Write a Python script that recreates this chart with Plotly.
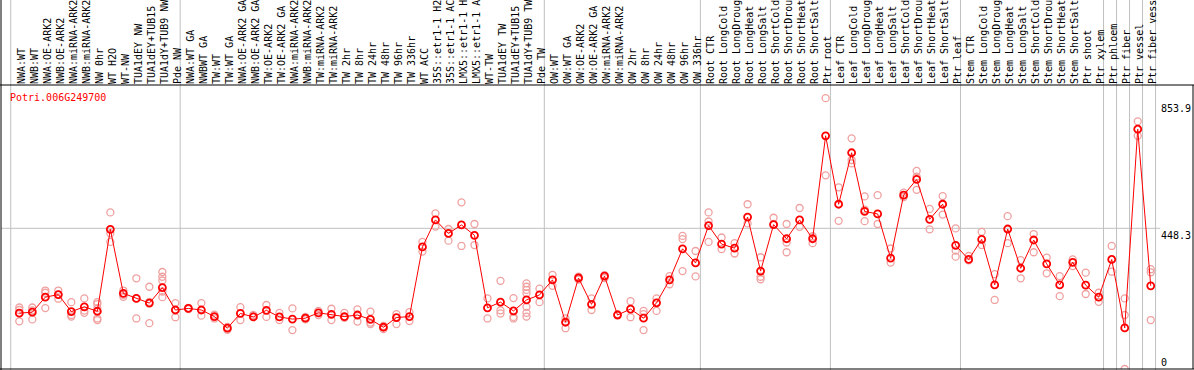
import plotly.graph_objects as go

gene_id = "Potri.006G249700"

categories = [
    "NWA:WT", "NWB:WT", "NWA:OE-ARK2", "NWB:OE-ARK2", "NWA:miRNA-ARK2", "NWB:miRNA-ARK2",
    "NW 0hr", "WT H2O", "WT-NW", "TUA1dEY NW", "TUA1dEY+TUB15 NW", "TUA1dY+TUB9 NW", "Pde NW",
    "NWA:WT GA", "NWBWT GA", "TW:WT", "TW:WT GA", "NWA:OE-ARK2 GA", "NWB:OE-ARK2 GA",
    "TW:OE-ARK2", "TW:OE-ARK2 GA", "NWA:miRNA-ARK2 GA", "NWB:miRNA-ARK2 GA", "TW:miRNA-ARK2",
    "TW:miRNA-ARK2 GA", "TW 2hr", "TW 8hr", "TW 24hr", "TW 48hr", "TW 96hr", "TW 336hr",
    "WT ACC", "35S::etr1-1 H2O", "35S::etr1-1 ACC", "LMX5::etr1-1 H2O", "LMX5::etr1-1 ACC",
    "WT-TW", "TUA1dEY TW", "TUA1dEY+TUB15 TW", "TUA1dY+TUB9 TW", "Pde TW",
    "OW:WT", "OW:WT GA", "OW:OE-ARK2", "OW:OE-ARK2 GA", "OW:miRNA-ARK2", "OW:miRNA-ARK2 GA",
    "OW 2hr", "OW 8hr", "OW 24hr", "OW 48hr", "OW 96hr", "OW 336hr",
    "Root CTR", "Root LongCold", "Root LongDrought", "Root LongHeat", "Root LongSalt",
    "Root ShortCold", "Root ShortDrought", "Root ShortHeat", "Root ShortSalt", "Ptr root",
    "Leaf CTR", "Leaf LongCold", "Leaf LongDrought", "Leaf LongHeat", "Leaf LongSalt",
    "Leaf ShortCold", "Leaf ShortDrought", "Leaf ShortHeat", "Leaf ShortSalt", "Ptr leaf",
    "Stem CTR", "Stem LongCold", "Stem LongDrought", "Stem LongHeat", "Stem LongSalt",
    "Stem ShortCold", "Stem ShortDrought", "Stem ShortHeat", "Stem ShortSalt", "Ptr shoot",
    "Ptr xylem", "Ptr phloem", "Ptr fiber", "Ptr vessel", "Ptr fiber vessel",
]

means = [
    178, 181, 229, 237, 183, 198, 184, 445, 241, 225, 210, 259, 188,
    193, 188, 167, 130, 177, 166, 187, 166, 159, 162, 179, 174, 167, 172, 158, 133, 164, 167,
    389, 475, 432, 459, 426, 195, 213, 185, 220, 236,
    284, 149, 290, 206, 296, 172, 191, 162, 211, 284, 383, 338,
    457, 398, 385, 484, 312, 460, 415, 475, 415, 743,
    525, 689, 502, 494, 353, 554, 604, 477, 525, 394,
    349, 413, 268, 446, 321, 411, 335, 268, 340, 267, 229,
    349, 131, 764, 265,
]

replicates = [
    [196, 188, 152], [196, 187, 158], [250, 243, 194], [250, 224, 237], [213, 172, 167],
    [225, 186, 179], [213, 207, 194, 161, 156], [499, 432, 405], [250, 236, 230],
    [289, 225, 161], [262, 214, 146], [309, 294, 282, 247, 229], [210, 165, 188],
    [195, 191], [210, 170], [173, 161], [134, 125], [197, 156], [172, 168], [204, 166],
    [179, 156], [193, 124], [166, 158], [185, 172], [192, 156], [179, 163], [190, 151],
    [183, 148, 143], [127, 137], [175, 143], [181, 153],
    [405, 374], [496, 454], [446, 409], [531, 392], [462, 395],
    [225, 161], [281, 187, 177], [226, 166, 161], [273, 262, 252, 241, 198, 179, 167], [256, 213],
    [300, 265], [161, 130], [294, 285], [225, 188], [299, 290], [175], [216, 165],
    [185, 175, 124], [225, 185], [296, 270], [424, 414, 312], [376, 295],
    [499, 470, 405], [419, 382], [401, 368], [525, 464], [356, 294, 286], [482, 462],
    [462, 403, 372], [513, 453], [401, 423], [863, 617],
    [579, 472], [735, 666, 655], [550, 508, 471], [554, 462], [384, 339], [562, 548],
    [631, 613, 571], [510, 445], [551, 492], [448, 377, 358],
    [360, 346], [437, 395], [302, 220], [487, 401], [347, 289], [430, 372], [355, 305],
    [296, 232], [349, 328], [307, 239], [243, 214],
    [392, 310], [225, 172, 0], [789, 743], [318, 308, 156],
]

group_starts = [0, 13, 41, 53, 63, 73, 84, 85, 86, 87, 88]
y_tick_values = [448.3, 853.9]
y_tick_bottom = [0]

W, H = 1194, 370
ML, MR, MT, MB = 1, 1, 85, 1
plot_w = W - ML - MR
plot_h = H - MT - MB
step = 13.005
first_px = 19.3
x_lo = -(first_px - ML) / step
x_hi = x_lo + plot_w / step
y_top = 904.9

rx, ry = [], []
for i, reps in enumerate(replicates):
    for v in reps:
        rx.append(i)
        ry.append(v)

idx = list(range(len(categories)))

fig = go.Figure()
fig.add_trace(go.Scatter(
    x=rx, y=ry, mode="markers", yaxis="y",
    marker=dict(symbol="circle-open", size=7, color="#f0a0a0", line=dict(width=1.3, color="#f0a0a0")),
    hoverinfo="skip", showlegend=False,
))
fig.add_trace(go.Scatter(
    x=idx, y=means, mode="lines+markers", yaxis="y2",
    line=dict(color="#ff0000", width=1),
    marker=dict(symbol="circle-open", size=7, color="#ff0000", line=dict(width=1.8, color="#ff0000")),
    showlegend=False,
))

shapes = []
for g in group_starts:
    xv = g - 0.63 if g > 0 else -0.66
    shapes.append(dict(type="line", xref="x", yref="paper", x0=xv, x1=xv,
                       y0=-0.01, y1=1 + MT / plot_h + 0.01,
                       line=dict(color="#c0c0c0", width=1), layer="below"))
shapes.append(dict(type="line", xref="paper", yref="y", x0=0, x1=(1160 - ML) / plot_w,
                   y0=y_tick_values[0], y1=y_tick_values[0],
                   line=dict(color="#c0c0c0", width=1), layer="below"))
shapes.append(dict(type="line", xref="paper", yref="paper", x0=0, x1=0,
                   y0=-0.01, y1=1 + MT / plot_h + 0.01, line=dict(color="black", width=1)))
shapes.append(dict(type="line", xref="paper", yref="paper", x0=1, x1=1,
                   y0=0, y1=1, line=dict(color="black", width=1)))
shapes.append(dict(type="line", xref="paper", yref="paper", x0=-0.01, x1=1.01,
                   y0=1, y1=1, line=dict(color="black", width=1)))
shapes.append(dict(type="line", xref="paper", yref="paper", x0=-0.01, x1=1.01,
                   y0=0, y1=0, line=dict(color="black", width=1)))

mono = "DejaVu Sans Mono"
ypos = (1160 - ML) / plot_w

fig.update_layout(
    template="none",
    width=W, height=H,
    margin=dict(l=ML, r=MR, t=MT, b=MB, pad=0, autoexpand=False),
    paper_bgcolor="white", plot_bgcolor="white",
    font=dict(family=mono, size=10, color="black"),
    showlegend=False,
    xaxis=dict(
        range=[x_lo, x_hi], side="top", tickmode="array",
        tickvals=idx, ticktext=categories, tickangle=-90,
        ticklabelshift=2,
        showgrid=False, zeroline=False, showline=False, ticks="",
        tickfont=dict(family=mono, size=10, color="black"),
        automargin=False, fixedrange=True,
    ),
    yaxis=dict(
        range=[0, y_top], anchor="free", position=ypos, side="right",
        tickmode="array", tickvals=y_tick_values,
        ticktext=[str(v) for v in y_tick_values],
        ticklabelposition="outside bottom",
        showgrid=False, zeroline=False, showline=False, ticks="",
        tickfont=dict(family=mono, size=10, color="black"),
        automargin=False,
    ),
    yaxis2=dict(
        range=[0, y_top], overlaying="y", anchor="free", position=ypos, side="right",
        tickmode="array", tickvals=y_tick_bottom,
        ticktext=[str(v) for v in y_tick_bottom],
        ticklabelposition="outside top",
        showgrid=False, zeroline=False, showline=False, ticks="",
        tickfont=dict(family=mono, size=10, color="black"),
        automargin=False,
    ),
    shapes=shapes,
    annotations=[dict(
        text=gene_id, xref="paper", yref="paper",
        x=(8 - ML) / plot_w, y=(369 - 97) / plot_h,
        xanchor="left", yanchor="middle", showarrow=False,
        font=dict(family=mono, size=10, color="#ff0000"),
    )],
)

fig.write_html(
    "out.html",
    config={"displayModeBar": False},
    post_script="document.body.style.margin='0';document.body.style.padding='0';",
)
